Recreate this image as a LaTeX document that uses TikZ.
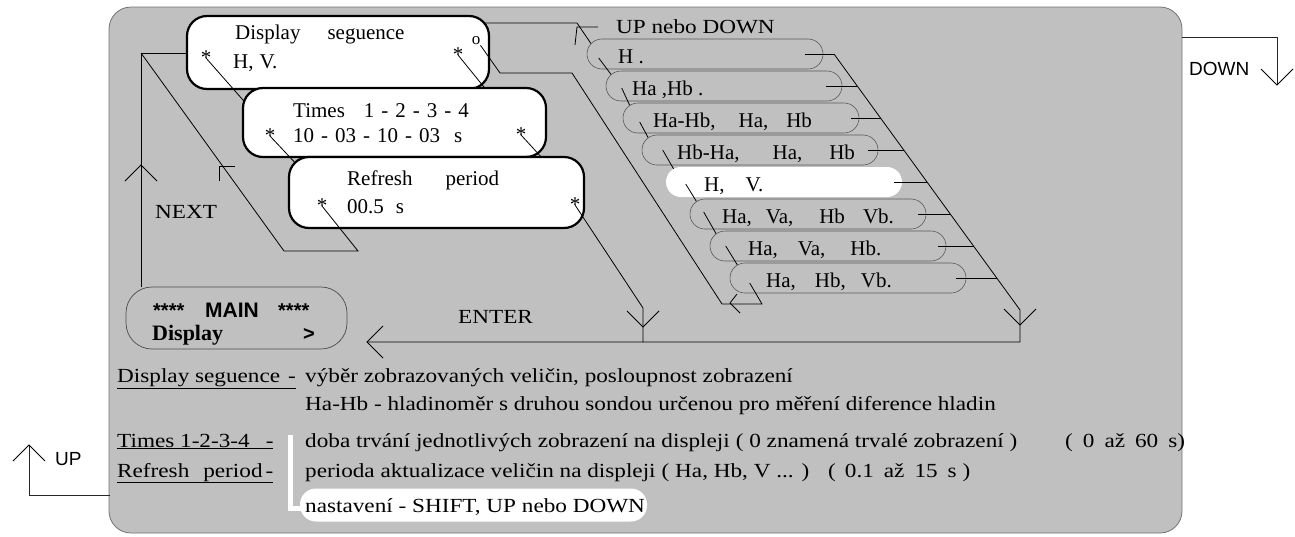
\documentclass[tikz,border=0pt]{standalone}
\usepackage{fontspec}
\setmainfont{Liberation Serif}
\newfontfamily\arialfont{Liberation Sans}
\newfontfamily\notefont{Liberation Serif}[FakeStretch=1.16]
\usetikzlibrary{arrows.meta,calc}
\definecolor{panelgray}{RGB}{192,192,192}
\newcommand{\dsh}{\hspace{7pt}-\hspace{7pt}}
\tikzset{
  panel/.style    = {draw=black!55,fill=panelgray,line width=0.8pt,rounded corners=22pt},
  menubox/.style  = {draw,line width=2.2pt,fill=white,rounded corners=20pt,inner sep=0pt},
  mainbox/.style  = {draw=black!70,line width=0.7pt,fill=panelgray,rounded corners=26pt,inner sep=0pt},
  itemoval/.style = {draw=black!65,line width=0.6pt,fill=panelgray,rounded corners=15pt,
                     minimum width=236pt,minimum height=30pt,inner sep=0pt},
  wire/.style     = {black,line width=0.8pt},
  keywire/.style  = {black!85,line width=0.6pt},
  boxtext/.style  = {font=\fontsize{21}{25}\selectfont,inner sep=0pt,anchor=base west},
  notetext/.style = {font=\notefont\fontsize{20}{24}\selectfont,inner sep=0pt,anchor=base west},
  sanstext/.style = {font=\arialfont\fontsize{19}{23}\selectfont,inner sep=0pt,anchor=base west},
  starmark/.style = {font=\fontsize{21}{25}\selectfont,inner sep=0pt},
  vee/.pic        = {\draw[wire] (-16,16) -- (0,0) -- (16,16);}
}
% one entry of the option list: name, left x, centre y, text x, text, extra style
\newcommand{\menuitem}[6]{%
  \node[itemoval,#6] (#1) at (#2+118,#3) {};
  \node[boxtext] (#1txt) at (#4,#3+9) {#5};
}

\begin{document}
\begin{tikzpicture}[x=1pt,y=-1pt]
  \useasboundingbox (0,0) rectangle (1295,536);
  \draw[panel] (109,7) rectangle (1182,533);

  % keys outside the panel
  \coordinate (downA) at (1182,37);
  \coordinate (downB) at (1277,37);
  \coordinate (downTip) at (1277,85);
  \draw[keywire] (downA) -- (downB) -- (downTip);
  \pic[rotate=180] at (downTip) {vee};
  \node[sanstext] (downLbl) at (1189,75) {DOWN};
  \coordinate (upA) at (110,495);
  \coordinate (upB) at (29,495);
  \coordinate (upTip) at (29,445);
  \draw[keywire] (upA) -- (upB) -- (upTip);
  \pic at (upTip) {vee};
  \node[sanstext] (upLbl) at (55,465) {UP};

  % wire from the sequence box to the option list
  \coordinate (lstStart) at (482,23);
  \coordinate (lstCorner) at (577,23);
  \coordinate (lstEnd) at (596,51);
  \coordinate (lstHook) at (577,27);
  \draw[wire] (lstStart) -- (lstCorner) -- (lstEnd);
  \draw[wire] (598,27) -- (lstHook) -- (575,45);
  \node[notetext] (lstLbl) at (616,33) {UP nebo DOWN};

  % menu boxes
  \node[menubox,minimum width=302pt,minimum height=73pt] (seq) at (338,52.5) {};
  \node[boxtext] (seqTitle) at (235,39) {Display\hspace{27pt}seguence};
  \node[boxtext] (seqVal) at (233,68) {H,\hspace{6pt}V.};
  \node[starmark] (seqL) at (206,58) {*};
  \node[starmark] (seqR) at (458,55) {*};
  \node[font=\fontsize{17}{19}\selectfont,inner sep=0pt] (seqO) at (476,41) {o};
  \coordinate (seqLend) at (250,108);
  \coordinate (seqRend) at (488,92);
  \draw[wire] (seqL.center) -- (seqLend);
  \draw[wire] (seqR.center) -- (seqRend);

  \node[menubox,minimum width=303pt,minimum height=69pt] (times) at (394.5,122.5) {};
  \node[boxtext] (timesTitle) at (293,117) {Times\hspace{19pt}1\dsh2\dsh3\dsh4};
  \node[boxtext] (timesVal) at (293,142) {10\dsh03\dsh10\dsh03\hspace{14pt}s};
  \node[starmark] (timesL) at (270,136) {*};
  \node[starmark] (timesR) at (521,135) {*};
  \coordinate (timesLend) at (300,168);
  \coordinate (timesRend) at (544,160);
  \draw[wire] (timesL.center) -- (timesLend);
  \draw[wire] (timesR.center) -- (timesRend);

  \node[menubox,minimum width=295pt,minimum height=71pt] (refr) at (436.5,192.5) {};
  \node[boxtext] (refrTitle) at (347,185) {Refresh\hspace{33pt}period};
  \node[boxtext] (refrVal) at (347,213) {00.5\hspace{12pt}s};
  \node[starmark] (refrL) at (322,206) {*};
  \node[starmark] (refrR) at (575,205) {*};

  % MAIN display
  \node[mainbox,minimum width=221pt,minimum height=62pt] (main) at (236.5,318) {};
  \node[sanstext,font=\arialfont\bfseries\fontsize{20}{22}\selectfont] (mainStarL) at (153,317) {****};
  \node[sanstext,font=\arialfont\bfseries\fontsize{21}{23}\selectfont] (mainTitle) at (205,317) {MAIN};
  \node[sanstext,font=\arialfont\bfseries\fontsize{20}{22}\selectfont] (mainStarR) at (278,317) {****};
  \node[boxtext,font=\bfseries\fontsize{22}{24}\selectfont] (mainItem) at (152,340) {Display};
  \node[sanstext,font=\arialfont\bfseries\fontsize{20}{22}\selectfont] (mainMore) at (303,340) {>};

  % NEXT loop
  \coordinate (nxtTop) at (141,53);
  \coordinate (nxtLow) at (284,251);
  \coordinate (nxtCorner) at (358,251);
  \coordinate (nxtHook) at (219,166);
  \draw[wire] (main.north -| nxtTop) -- (nxtTop) -- (nxtTop -| seq.west);
  \draw[wire] (refrL.center) -- (nxtCorner) -- (nxtLow) -- (nxtTop);
  \draw[wire] (235,166) -- (nxtHook) -- (219,181);
  \pic at (141,165) {vee};
  \node[notetext] (nxtLbl) at (155,218) {NEXT};

  % ENTER path
  \coordinate (entB) at (643,308);
  \coordinate (entC) at (643,342);
  \coordinate (entTip) at (367,342);
  \draw[wire] (refrR.center) -- (entB) -- (entC) -- (entTip);
  \pic[rotate=180] at (643,327) {vee};
  \pic[rotate=90] at (entTip) {vee};
  \node[notetext] (entLbl) at (458,323) {ENTER};

  % option list
  \menuitem{optH}{587}{54}{618}{H .}{}
  \draw[wire] ([shift={(12,4)}]optH.west) -- ([shift={(30,28)}]optH.west);
  \menuitem{optHaHb}{606}{86}{632}{Ha ,Hb .}{}
  \draw[wire] ([shift={(16,2)}]optHaHb.west) -- ([shift={(28,28)}]optHaHb.west);
  \menuitem{optDiffA}{623}{118}{653}{Ha-Hb,\hspace{23pt}Ha,\hspace{18pt}Hb}{}
  \draw[wire] ([shift={(17,4)}]optDiffA.west) -- ([shift={(30,28)}]optDiffA.west);
  \menuitem{optDiffB}{642}{150}{677}{Hb-Ha,\hspace{33pt}Ha,\hspace{27pt}Hb}{}
  \draw[wire] ([shift={(21,0)}]optDiffB.west) -- ([shift={(36,26)}]optDiffB.west);
  \menuitem{optHV}{666}{182}{704}{H,\hspace{21pt}V.}{fill=white,draw=none}
  \draw[wire] ([shift={(20,2)}]optHV.west) -- ([shift={(36,28)}]optHV.west);
  \menuitem{optHaVaHbVb}{690}{214}{722}{Ha,\hspace{14pt}Va,\hspace{26pt}Hb\hspace{18pt}Vb.}{}
  \draw[wire] ([shift={(14,-2)}]optHaVaHbVb.west) -- ([shift={(30,26)}]optHaVaHbVb.west);
  \menuitem{optHaVaHb}{710}{246}{748}{Ha,\hspace{20pt}Va,\hspace{25pt}Hb.}{}
  \draw[wire] ([shift={(16,0)}]optHaVaHb.west) -- ([shift={(32,26)}]optHaVaHb.west);
  \menuitem{optHaHbVb}{730}{278}{766}{Ha,\hspace{19pt}Hb,\hspace{15pt}Vb.}{}

  % escape back to the sequence box
  \coordinate (escR) at (762,304);
  \coordinate (escL) at (722,304);
  \coordinate (escTop) at (572,73);
  \coordinate (escBend) at (500,73);
  \coordinate (escHook) at (730,303);
  \draw[wire] ([shift={(20,5)}]optHaHbVb.west) -- (escR) -- (escL) -- (escTop) -- (escBend) -- (seqO.south east);
  \draw[wire] (737,294) -- (escHook) -- (740,313);

  % list wires on the right
  \coordinate (dtop) at (834,54);
  \coordinate (dbot) at (1020,310);
  \coordinate (lstFoot) at (1020,342);
  \draw[wire] (dtop) -- (dbot) -- (lstFoot) -- (entC);
  \pic[rotate=180] at (1020,325) {vee};
  \draw[wire] ([xshift=-18pt]optH.east) -- (dtop);
  \draw[wire] ([xshift=-16pt]optHaHb.east) -- ($(dtop)!0.125!(dbot)$);
  \draw[wire] ([xshift=-8pt]optDiffA.east) -- ($(dtop)!0.25!(dbot)$);
  \draw[wire] ([xshift=-10pt]optDiffB.east) -- ($(dtop)!0.375!(dbot)$);
  \draw[wire] ([xshift=-8pt]optHV.east) -- ($(dtop)!0.5!(dbot)$);
  \draw[wire] ([xshift=-8pt]optHaVaHbVb.east) -- ($(dtop)!0.625!(dbot)$);
  \draw[wire] ([xshift=-8pt]optHaVaHb.east) -- ($(dtop)!0.75!(dbot)$);
  \draw[wire] ([xshift=-10pt]optHaHbVb.east) -- ($(dtop)!0.875!(dbot)$);

  % notes below
  \node[notetext] (ntSeq) at (117,382) {\underline{Display seguence\hspace{8pt}-}};
  \node[notetext] (ntSeqTxt) at (305,382) {výběr zobrazovaných veličin, posloupnost zobrazení};
  \node[notetext] (ntDiff) at (305,410) {Ha-Hb - hladinoměr s druhou sondou určenou pro měření diference hladin};
  \node[notetext] (ntTimes) at (117,447) {\underline{Times 1-2-3-4\hspace{16pt}-}};
  \node[notetext] (ntTimesTxt) at (305,447) {doba trvání jednotlivých zobrazení na displeji\hspace{6pt}( 0 znamená trvalé zobrazení )};
  \node[notetext] (ntTimesRng) at (1065,447) {(\hspace{10pt}0\hspace{10pt}až\hspace{10pt}60\hspace{10pt}s)};
  \node[notetext] (ntRefr) at (117,477) {\underline{Refresh\hspace{14pt}period\hspace{3pt}-}};
  \node[notetext] (ntRefrTxt) at (305,477) {perioda aktualizace veličin na displeji\hspace{6pt}( Ha, Hb, V ... )};
  \node[notetext] (ntRefrRng) at (828,477) {(\hspace{9pt}0.1\hspace{10pt}až\hspace{10pt}15\hspace{10pt}s )};
  \fill[white] (288,435) rectangle (293,511);
  \fill[white] (288,506) rectangle (312,511);
  \node[fill=white,rounded corners=16pt,minimum width=347pt,minimum height=33pt,inner sep=0pt] (ntSetBg) at (473.5,505) {};
  \node[notetext] (ntSet) at (305,512) {nastavení - SHIFT, UP nebo DOWN};
\end{tikzpicture}
\end{document}
